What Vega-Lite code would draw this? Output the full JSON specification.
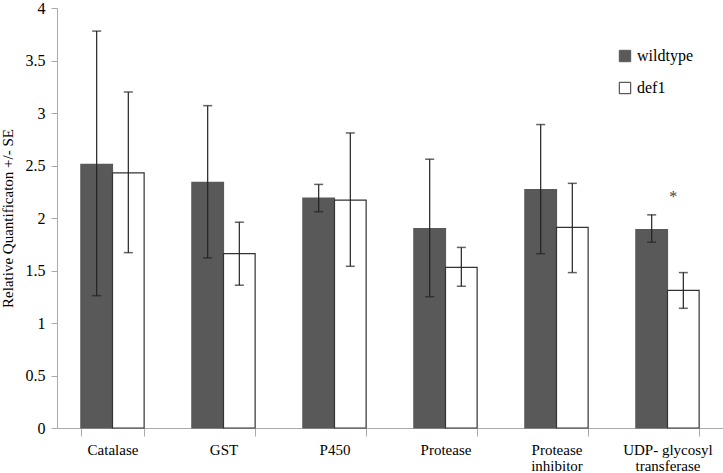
{
  "$schema": "https://vega.github.io/schema/vega-lite/v6.json",
  "width": 666,
  "height": 420,
  "autosize": "none",
  "padding": {"left": 57, "top": 8, "right": 0, "bottom": 45},
  "background": "white",
  "config": {
    "view": {"stroke": null},
    "font": "Liberation Serif",
    "axis": {"labelFont": "Liberation Serif", "titleFont": "Liberation Serif", "grid": false}
  },
  "data": {
    "values": [
      {"gene": "Catalase", "group": "wildtype", "value": 2.51, "lo": 1.26, "hi": 3.78},
      {"gene": "Catalase", "group": "def1", "value": 2.43, "lo": 1.67, "hi": 3.2},
      {"gene": "GST", "group": "wildtype", "value": 2.34, "lo": 1.62, "hi": 3.07},
      {"gene": "GST", "group": "def1", "value": 1.66, "lo": 1.36, "hi": 1.96},
      {"gene": "P450", "group": "wildtype", "value": 2.19, "lo": 2.06, "hi": 2.32},
      {"gene": "P450", "group": "def1", "value": 2.17, "lo": 1.54, "hi": 2.81},
      {"gene": "Protease", "group": "wildtype", "value": 1.9, "lo": 1.25, "hi": 2.56},
      {"gene": "Protease", "group": "def1", "value": 1.53, "lo": 1.35, "hi": 1.72},
      {"gene": "Protease inhibitor", "group": "wildtype", "value": 2.27, "lo": 1.66, "hi": 2.89},
      {"gene": "Protease inhibitor", "group": "def1", "value": 1.91, "lo": 1.48, "hi": 2.33},
      {"gene": "UDP- glycosyl transferase", "group": "wildtype", "value": 1.89, "lo": 1.77, "hi": 2.03},
      {"gene": "UDP- glycosyl transferase", "group": "def1", "value": 1.31, "lo": 1.14, "hi": 1.48, "sig": "*"}
    ]
  },
  "encoding": {
    "x": {
      "field": "gene", "type": "nominal", "sort": null,
      "scale": {"paddingInner": 0.43, "paddingOuter": 0.215},
      "axis": {
        "title": null, "labelAngle": 0, "labelFontSize": 15, "labelColor": "#000",
        "labelPadding": 6, "labelBaseline": "top", "tickBand": "extent", "tickSize": 8, "tickColor": "#aaa",
        "domainColor": "#aaa", "labelLineHeight": 16,
        "labelExpr": "datum.label == 'Protease inhibitor' ? ['Protease','inhibitor'] : datum.label == 'UDP- glycosyl transferase' ? ['UDP- glycosyl','transferase'] : datum.label"
      }
    },
    "xOffset": {"field": "group", "type": "nominal", "sort": ["wildtype", "def1"], "scale": {"paddingInner": 0, "paddingOuter": 0}}
  },
  "layer": [
    {
      "mark": {"type": "bar", "strokeWidth": 1.2},
      "encoding": {
        "y": {
          "field": "value", "type": "quantitative",
          "scale": {"domain": [0, 4], "nice": false},
          "axis": {
            "values": [0, 0.5, 1, 1.5, 2, 2.5, 3, 3.5, 4], "format": "~g", "labelFontSize": 16, "labelColor": "#000",
            "title": "Relative Quantificaton +/- SE", "titleFontSize": 15, "titleFontWeight": "normal",
            "titleColor": "#000", "titlePadding": 10, "tickSize": 6, "tickColor": "#aaa",
            "domainColor": "#aaa", "labelPadding": 6
          }
        },
        "fill": {
          "field": "group", "type": "nominal", "sort": ["wildtype", "def1"],
          "scale": {"domain": ["wildtype", "def1"], "range": ["#595959", "#ffffff"]},
          "legend": {
            "title": null, "orient": "none", "legendX": 560, "legendY": 40,
            "labelFontSize": 16, "labelColor": "#000", "symbolType": "square", "symbolSize": 130,
            "rowPadding": 16, "labelOffset": 4, "symbolStrokeWidth": 1
          }
        },
        "stroke": {
          "field": "group", "type": "nominal", "sort": ["wildtype", "def1"],
          "scale": {"domain": ["wildtype", "def1"], "range": ["#595959", "#333333"]},
          "legend": null
        }
      }
    },
    {
      "mark": {"type": "rule", "color": "#222", "strokeWidth": 1.2},
      "encoding": {
        "y": {"field": "lo", "type": "quantitative"},
        "y2": {"field": "hi"}
      }
    },
    {
      "mark": {"type": "tick", "color": "#222", "thickness": 1.5, "size": 9},
      "encoding": {"y": {"field": "lo", "type": "quantitative"}}
    },
    {
      "mark": {"type": "tick", "color": "#222", "thickness": 1.5, "size": 9},
      "encoding": {"y": {"field": "hi", "type": "quantitative"}}
    },
    {
      "transform": [{"filter": "datum.sig"}],
      "mark": {"type": "text", "fontSize": 16, "dx": -10, "dy": 0, "color": "#444"},
      "encoding": {
        "y": {"datum": 2.2, "type": "quantitative"},
        "text": {"field": "sig"}
      }
    }
  ]
}
